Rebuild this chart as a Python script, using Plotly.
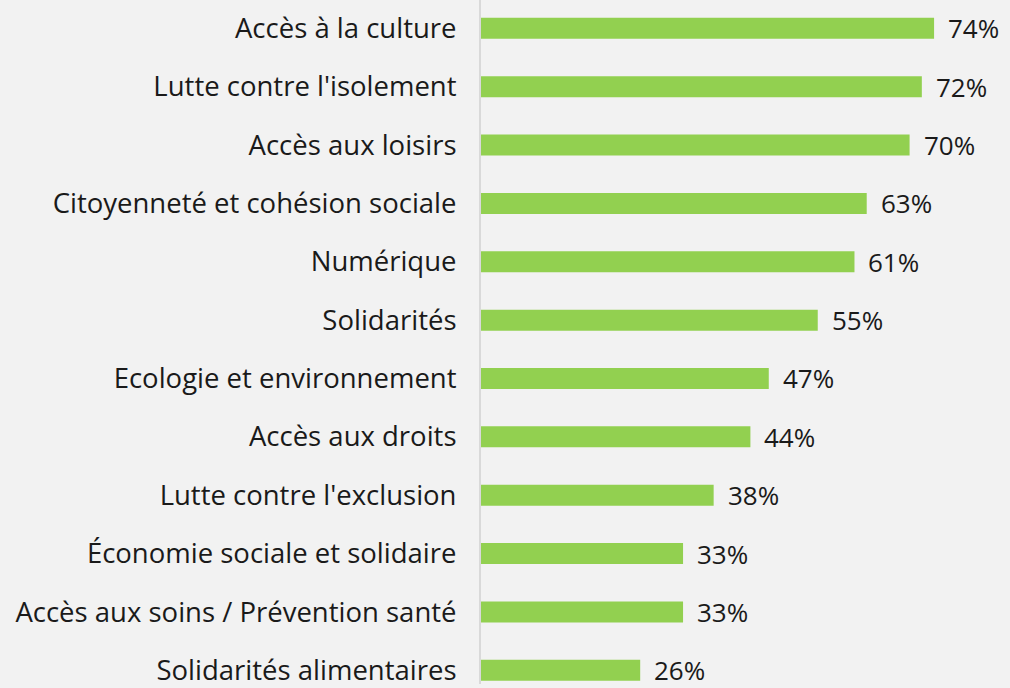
import plotly.graph_objects as go

# Données
categories = [
    "Accès à la culture",
    "Lutte contre l'isolement",
    "Accès aux loisirs",
    "Citoyenneté et cohésion sociale",
    "Numérique",
    "Solidarités",
    "Ecologie et environnement",
    "Accès aux droits",
    "Lutte contre l'exclusion",
    "Économie sociale et solidaire",
    "Accès aux soins / Prévention santé",
    "Solidarités alimentaires",
]
valeurs = [74, 72, 70, 63, 61, 55, 47, 44, 38, 33, 33, 26]

FOND = "#f2f2f2"
VERT = "#92d050"
TEXTE = "#1a1a1a"
POLICE = "Open Sans"
TAILLE = 27.5

fig = go.Figure(go.Bar(
    y=categories,
    x=valeurs,
    orientation="h",
    marker=dict(color=VERT, line=dict(width=0)),
    width=0.36,
    hoverinfo="skip",
))

# Étiquettes de valeur à droite des barres
for cat, v in zip(categories, valeurs):
    fig.add_annotation(
        x=v, y=cat, text=f"{v}%", showarrow=False,
        xanchor="left", xshift=12,
        font=dict(family=POLICE, size=26, color=TEXTE),
    )

fig.update_layout(
    width=1010, height=688,
    paper_bgcolor=FOND, plot_bgcolor=FOND,
    margin=dict(l=481, r=0, t=0, b=0),
    showlegend=False,
    font=dict(family=POLICE, size=TAILLE, color=TEXTE),
    xaxis=dict(range=[0, 86.4], visible=False, showgrid=False, zeroline=False),
    yaxis=dict(
        range=[11.235, -0.4855],
        showgrid=False, zeroline=False,
        showline=True, linecolor="#d9d9d9", linewidth=2,
        ticks="", ticklabelstandoff=17,
        tickfont=dict(family=POLICE, size=TAILLE, color=TEXTE),
    ),
)

# pas de marge blanche autour du graphique
fig.write_html(
    "out.html",
    config={"displayModeBar": False},
    post_script="document.body.style.margin='0';",
)
